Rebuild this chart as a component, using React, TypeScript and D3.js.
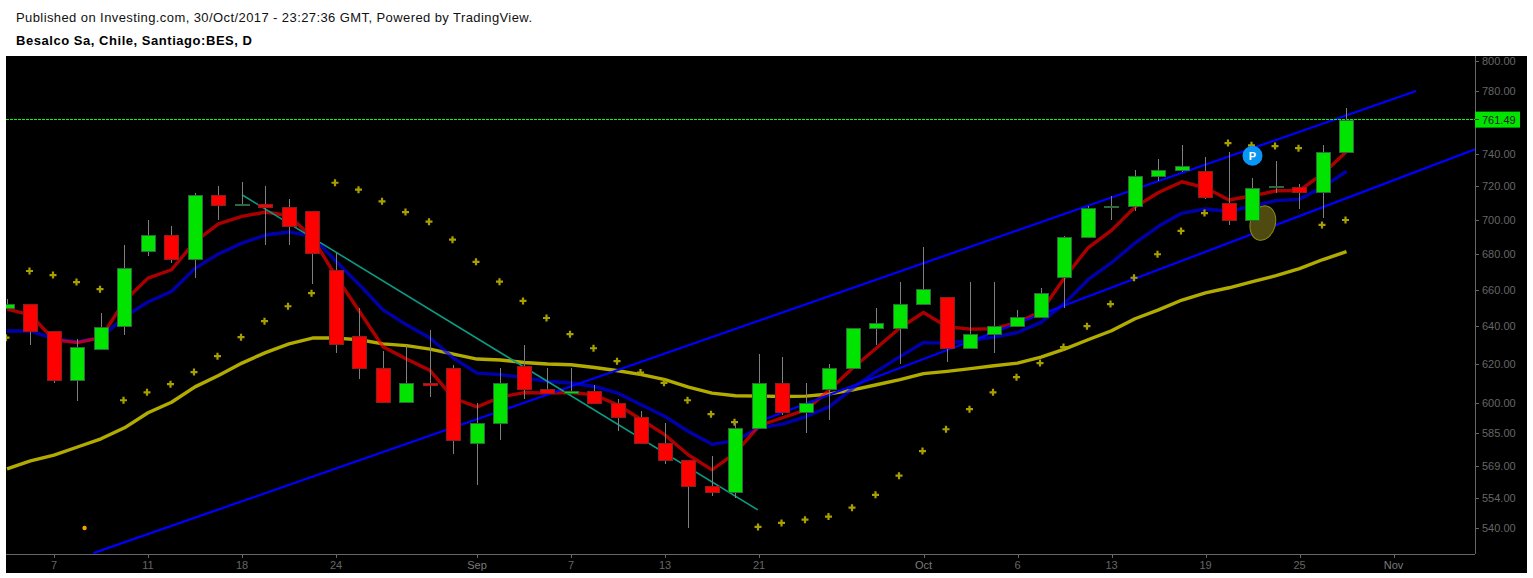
import React from "react";
import * as d3 from "d3";

const TITLE1 = "Published on Investing.com, 30/Oct/2017 - 23:27:36 GMT, Powered by TradingView.";
const TITLE2 = "Besalco Sa, Chile, Santiago:BES, D";
const LAST_PRICE = 761.49;

const opens = [649.7,652.0,637.4,611.6,627.7,640.2,681.7,691.0,677.2,714.6,708.9,709.2,707.4,705.1,670.9,634.7,617.8,600.3,610.1,617.8,579.9,589.8,618.9,607.0,604.9,605.9,600.1,593.1,580.2,571.7,559.4,556.8,587.4,610.1,595.3,607.0,617.8,639.0,639.0,651.9,655.7,628.2,635.7,640.0,644.9,667.0,689.8,707.4,708.0,726.2,729.9,729.3,709.8,699.8,719.4,719.5,716.4,740.9];
const highs = [654.8,652.0,637.4,633.2,647.2,685.3,700.0,696.5,716.0,720.3,722.3,720.3,712.3,705.1,680.5,649.7,626.8,629.8,638.1,619.5,599.9,618.0,630.0,618.0,618.1,609.2,601.9,596.0,590.1,571.7,573.9,590.6,625.2,623.7,610.1,620.0,639.0,649.7,664.4,683.9,655.7,664.4,664.4,648.8,661.0,690.6,708.2,714.2,730.1,736.6,745.2,738.0,741.1,725.2,735.6,721.5,745.2,769.1];
const lows = [649.7,630.0,610.3,601.1,627.7,635.0,679.0,675.2,666.2,700.0,708.5,685.5,685.5,663.2,625.9,612.3,600.3,600.3,602.9,574.7,560.0,581.6,601.9,604.9,604.9,600.1,586.0,580.2,570.0,540.1,554.8,554.0,587.4,594.0,585.0,591.5,617.8,630.0,620.0,651.9,621.2,628.2,625.9,640.0,644.9,649.9,689.8,700.0,705.4,723.3,728.4,712.5,696.6,699.8,715.6,706.6,700.7,740.9];
const closes = [651.9,637.4,611.6,628.7,639.8,672.1,691.0,677.2,714.6,708.6,709.4,707.4,696.3,680.5,630.4,617.8,600.3,610.1,609.0,581.4,589.8,610.1,607.0,604.9,605.9,600.1,593.1,580.2,571.7,559.4,556.8,587.4,610.1,595.3,599.8,617.8,639.0,641.7,651.9,660.2,628.2,635.7,640.0,644.9,658.0,690.0,706.8,708.0,726.2,729.9,732.3,713.4,699.8,718.9,720.0,716.4,740.9,761.49];

const fastLine = [649.2,646.1,632.7,631.2,633.9,653.7,666.4,671.1,687.2,697.5,701.9,704.5,702.3,689.4,667.3,647.9,629.0,622.5,616.6,602.4,597.9,602.9,605.2,604.9,605.2,604.0,598.9,591.5,584.0,574.2,567.1,575.2,588.5,592.5,596.4,606.6,618.0,628.3,639.1,647.4,639.7,638.4,638.6,642.0,647.9,666.6,683.6,693.7,707.4,716.2,722.7,719.0,711.7,714.2,717.2,717.4,727.6,741.3];
const midLine = [637.4,637.4,633.2,631.6,633.8,645.1,653.1,658.9,671.9,680.1,686.3,691.0,692.8,690.2,675.8,662.6,648.8,640.7,633.6,623.0,615.2,614.4,612.8,610.9,610.1,608.3,604.9,598.9,593.1,585.7,579.4,581.2,587.5,589.3,593.1,598.1,607.5,616.1,623.8,631.2,630.9,632.3,634.1,636.6,642.0,652.4,665.5,675.1,686.3,696.1,703.9,706.3,704.8,708.2,711.3,712.2,719.5,729.1];
const slowLine = [567.6,571.4,574.2,578.1,582.1,587.5,595.0,600.3,608.1,614.0,620.4,625.9,630.5,633.6,633.6,632.7,630.5,629.6,627.7,625.1,622.5,622.0,620.7,619.9,619.5,618.1,616.4,614.4,611.8,608.0,604.9,603.6,603.4,603.2,603.4,604.5,606.6,609.2,611.8,614.9,616.1,617.5,619.0,620.4,623.5,627.7,632.7,637.5,644.0,648.8,654.2,658.2,661.0,664.4,667.8,671.7,676.9,681.4];
const sar = [633.8,670.4,668.1,664.2,660.2,601.3,605.3,609.5,615.7,624.0,634.1,642.7,650.8,658.0,722.1,717.9,710.9,704.5,698.8,688.3,675.6,664.4,653.7,644.4,635.7,628.2,621.4,615.5,610.2,601.3,594.3,590.3,540.5,542.3,543.8,545.2,549.3,555.3,564.3,576.1,586.8,596.8,605.3,613.1,620.4,628.8,640.0,652.0,666.6,679.9,693.4,703.9,746.6,745.2,744.7,743.4,696.9,699.8];

const upperChannel: [number, number][] = [[3.68, 528.7], [59.96, 780.0]];
const lowerChannel: [number, number][] = [[32, 590.6], [62.47, 742.7]];
const downTrend: [number, number][] = [[10, 714.8], [31.95, 548.3]];

const priceTicks = [800,780,740,720,700,680,660,640,620,600,585,569,554,540];
const dateTicks: [number, string][] = [[2,"7"],[6,"11"],[10,"18"],[14,"24"],[20,"Sep"],[24,"7"],[28,"13"],[32,"21"],[39,"Oct"],[43,"6"],[47,"13"],[51,"19"],[55,"25"],[59,"Nov"]];

const orangeMark: [number, number] = [3.3, 540];
const pinMark: [number, number] = [53, 738.7];
const ellipseMark: [number, number] = [53.44, 698];

const W = 1533, H = 578;
const plot = { left: 6, right: 1475, top: 56, bottom: 554, outerRight: 1527, outerBottom: 573 };
const GRAY = "#666666";
const FONT = "'Liberation Sans', Arial, sans-serif";

const x = d3.scaleLinear().domain([0, 1]).range([7, 30.5]);
const y = d3.scaleLog().domain([800, 540]).range([61, 528]);

function trend(pts: [number, number][]) {
  return d3.line<[number, number]>().x((d) => x(d[0])).y((d) => y(d[1]))(pts) || "";
}
function series(vals: number[]) {
  return d3.line<number>().x((_, i) => x(i)).y((d) => y(d)).curve(d3.curveLinear)(vals) || "";
}

export default function App() {
  const lastY = Math.round(y(LAST_PRICE)) - 0.5;
  return (
    <svg width={W} height={H} viewBox={`0 0 ${W} ${H}`} style={{ position: "absolute", left: 0, top: 0, display: "block", background: "#fff" }}>
      <defs>
        <clipPath id="plotClip">
          <rect x={plot.left} y={plot.top} width={plot.right - plot.left} height={plot.bottom - plot.top} />
        </clipPath>
      </defs>
      <text x={16} y={22} fontFamily={FONT} fontSize={13} fill="#111" textLength={516} lengthAdjust="spacing">{TITLE1}</text>
      <text x={16} y={45} fontFamily={FONT} fontSize={13} fontWeight="bold" fill="#000" textLength={236} lengthAdjust="spacing">{TITLE2}</text>
      <rect x={plot.left} y={plot.top} width={plot.outerRight - plot.left} height={plot.outerBottom - plot.top} fill="#000" />

      <g clipPath="url(#plotClip)">
        <path d={series(slowLine)} fill="none" stroke="#b3ac00" strokeWidth={3.4} strokeLinejoin="round" />
        <path d={series(midLine)} fill="none" stroke="#0000ff" strokeOpacity={0.67} strokeWidth={3.4} strokeLinejoin="round" />
        <path d={series(fastLine)} fill="none" stroke="#ff0000" strokeOpacity={0.67} strokeWidth={3.4} strokeLinejoin="round" />
        <path d={trend(upperChannel)} fill="none" stroke="#0000ff" strokeWidth={2.2} />
        <path d={trend(lowerChannel)} fill="none" stroke="#0000ff" strokeWidth={2.2} />
        <path d={trend(downTrend)} fill="none" stroke="#0d9a85" strokeWidth={1.6} />
        <line x1={plot.left} x2={plot.right} y1={lastY} y2={lastY} stroke="#00ff00" strokeWidth={1} strokeDasharray="3 1" shapeRendering="crispEdges" />
        {sar.map((v, i) => (
          <g key={i} transform={`translate(${x(i) - 1},${y(v)})`}>
            <path d="M-3.5,0H3.5M0,-3.5V3.5" stroke="#a8a000" strokeWidth={2.2} />
          </g>
        ))}
        <circle cx={x(orangeMark[0])} cy={y(orangeMark[1])} r={2.2} fill="#f7a000" />
        <ellipse cx={x(ellipseMark[0])} cy={y(ellipseMark[1])} rx={12.5} ry={17.5} transform={`rotate(15 ${x(ellipseMark[0])} ${y(ellipseMark[1])})`} fill="#4f4b10" stroke="#8c8a1a" strokeWidth={1} />
        {closes.map((c, i) => {
          const o = opens[i];
          const up = c >= o;
          const cx = Math.round(x(i) - 0.3);
          const top = Math.round(y(Math.max(o, c)));
          const bot = Math.round(y(Math.min(o, c)));
          const fill = up ? "#00e400" : "#ff0000";
          const edge = up ? "#2c6a3c" : "#8a1f1f";
          return (
            <g key={i} shapeRendering="crispEdges">
              <line x1={cx + 0.5} x2={cx + 0.5} y1={y(highs[i])} y2={y(lows[i])} stroke="#7f7f7f" strokeWidth={1} />
              <rect x={cx - 6.5} y={top + 0.5} width={14} height={Math.max(1, bot - top)} fill={fill} stroke={edge} strokeWidth={1} />
            </g>
          );
        })}
        <circle cx={x(pinMark[0])} cy={y(pinMark[1])} r={10} fill="#0a96f5" />
        <text x={x(pinMark[0])} y={y(pinMark[1]) + 4} textAnchor="middle" fontFamily={FONT} fontWeight="bold" fontSize={11} fill="#fff">P</text>
      </g>

      <line x1={plot.left} x2={plot.right} y1={plot.bottom} y2={plot.bottom} stroke={GRAY} strokeWidth={1} shapeRendering="crispEdges" />
      <line x1={plot.right} x2={plot.right} y1={plot.top} y2={plot.bottom} stroke={GRAY} strokeWidth={1} shapeRendering="crispEdges" />
      {priceTicks.map((t) => (
        <g key={t}>
          <line x1={plot.right} x2={plot.right + 4} y1={Math.round(y(t)) + 0.5} y2={Math.round(y(t)) + 0.5} stroke={GRAY} shapeRendering="crispEdges" />
          <text x={plot.right + 7} y={y(t) + 4} fontFamily={FONT} fontSize={11} fill={GRAY}>{t.toFixed(2)}</text>
        </g>
      ))}
      {dateTicks.map(([i, s]) => (
        <g key={i}>
          <line x1={Math.round(x(i)) + 0.5} x2={Math.round(x(i)) + 0.5} y1={plot.bottom} y2={plot.bottom + 4} stroke={GRAY} shapeRendering="crispEdges" />
          <text x={x(i)} y={plot.bottom + 15} textAnchor="middle" fontFamily={FONT} fontSize={11} fill={/[A-Z]/.test(s) ? "#7a7a7a" : GRAY}>{s}</text>
        </g>
      ))}
      <rect x={plot.right} y={y(LAST_PRICE) - 8} width={45} height={16} fill="#00e400" />
      <line x1={plot.right} x2={plot.right + 4} y1={lastY} y2={lastY} stroke="#333" shapeRendering="crispEdges" />
      <text x={plot.right + 7} y={y(LAST_PRICE) + 4} fontFamily={FONT} fontSize={11} fill="#222">{LAST_PRICE.toFixed(2)}</text>
    </svg>
  );
}
